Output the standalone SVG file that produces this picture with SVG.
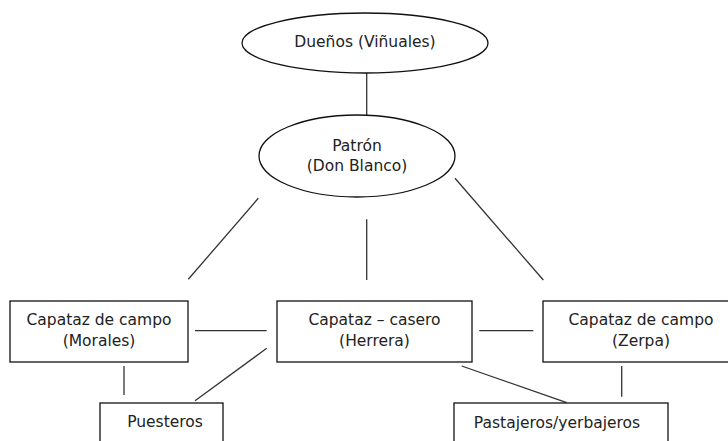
<svg xmlns="http://www.w3.org/2000/svg" width="728" height="441" viewBox="0 0 728 441">
<style>
.n{fill:#fff;stroke:#111;stroke-width:1.3}
.t{font-family:"DejaVu Sans",Verdana,sans-serif;font-size:15.5px;fill:#222;text-anchor:middle}
.c line{stroke:#333;stroke-width:1.3}
</style>
<rect width="728" height="441" fill="#fff"/>
<g class="c" id="connectors">
<line x1="366.7" y1="73" x2="366.7" y2="115"/>
<line x1="258.3" y1="198.3" x2="188.3" y2="279.3"/>
<line x1="366.7" y1="219.3" x2="366.7" y2="280"/>
<line x1="455" y1="178.3" x2="543.3" y2="280"/>
<line x1="195" y1="330.7" x2="266.7" y2="330.7"/>
<line x1="266.7" y1="348.3" x2="195" y2="400.7"/>
<line x1="124" y1="366" x2="124" y2="395"/>
<line x1="479.3" y1="330.7" x2="533.3" y2="330.7"/>
<line x1="461.7" y1="366" x2="566.7" y2="402.7"/>
<line x1="621.7" y1="366" x2="621.7" y2="396.7"/>
</g>
<g id="duenos">
<ellipse class="n" cx="365" cy="43" rx="123" ry="30"/>
<text class="t" x="365" y="46.5">Dueños (Viñuales)</text>
</g>
<g id="patron">
<ellipse class="n" cx="357" cy="156" rx="98" ry="41"/>
<text class="t" x="357" y="151">Patrón</text>
<text class="t" x="357" y="171">(Don Blanco)</text>
</g>
<g id="morales">
<rect class="n" x="10" y="301" width="178" height="61"/>
<text class="t" x="99" y="324.5">Capataz de campo</text>
<text class="t" x="99" y="345.5">(Morales)</text>
</g>
<g id="herrera">
<rect class="n" x="277" y="301" width="195" height="61"/>
<text class="t" x="374.5" y="324.5">Capataz – casero</text>
<text class="t" x="374.5" y="345.5">(Herrera)</text>
</g>
<g id="zerpa">
<rect class="n" x="543" y="301" width="196" height="61"/>
<text class="t" x="641" y="324.5">Capataz de campo</text>
<text class="t" x="641" y="345.5">(Zerpa)</text>
</g>
<g id="puesteros">
<rect class="n" x="100" y="403" width="123" height="50"/>
<text class="t" x="165" y="427">Puesteros</text>
</g>
<g id="pastajeros">
<rect class="n" x="454" y="403" width="214" height="50"/>
<text class="t" x="557" y="428">Pastajeros/yerbajeros</text>
</g>
</svg>
